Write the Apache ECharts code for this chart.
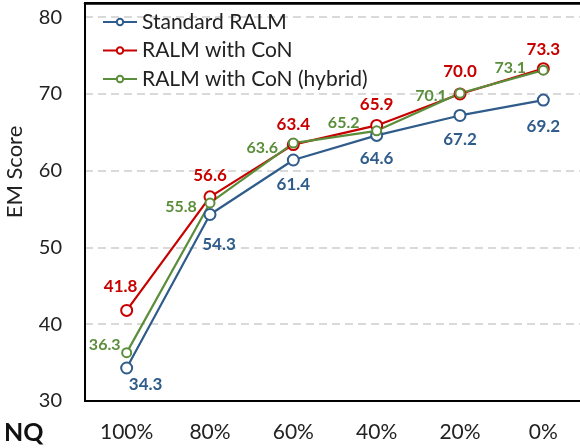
<!DOCTYPE html>
<html>
<head>
<meta charset="utf-8">
<script src="https://cdn.jsdelivr.net/npm/echarts@6/dist/echarts.min.js"></script>
<style>html,body{margin:0;padding:0;background:#fff}#c{width:580px;height:448px}</style>
</head>
<body>
<div id="c"></div>
<script>
const categories = ['100%', '80%', '60%', '40%', '20%', '0%'];
const seriesNames = ['Standard RALM', 'RALM with CoN', 'RALM with CoN (hybrid)'];
const standardRALM = [34.3, 54.3, 61.4, 64.6, 67.2, 69.2];
const ralmCoN = [41.8, 56.6, 63.4, 65.9, 70.0, 73.3];
const ralmCoNHybrid = [36.3, 55.8, 63.6, 65.2, 70.1, 73.1];
const yTicks = [30, 40, 50, 60, 70, 80];

// label offsets (layout only)
const offStd = [[19, 17], [9, 30], [0, 25], [0, 23], [0, 24], [0, 26]];
const offCoN = [[-6, -24], [0, -21], [0, -20], [0, -21], [0, -22], [0, -19]];
const offHyb = [[-22, -8], [-29, 4], [-31, 5], [-33, -8], [-29, 3], [-33, -2]];

const FONT = 'Lato';
const cBlue = '#2F5C8A', cRed = '#C80000', cGreen = '#5B8E3A';

function mk(vals, offs) {
  return vals.map((v, i) => ({ value: v, label: { offset: offs[i] } }));
}
function series(name, vals, offs, color, size, bw, fs) {
  return {
    name: name, type: 'line', data: mk(vals, offs),
    symbol: 'emptyCircle', symbolSize: size,
    lineStyle: { color: color, width: 2.2 },
    itemStyle: { color: color, borderColor: color, borderWidth: bw },
    label: {
      show: true, position: 'inside', color: color,
      fontFamily: FONT, fontWeight: 'bold', fontSize: fs,
      formatter: p => p.value.toFixed(1)
    }
  };
}

const chart = echarts.init(document.getElementById('c'), null, { renderer: 'canvas' });
chart.setOption({
  animation: false,
  textStyle: { fontFamily: FONT },
  grid: { left: 85, width: 500, top: 3, bottom: 47, outerBoundsMode: 'none', containLabel: false,
    show: true, borderColor: '#000', borderWidth: 2, backgroundColor: 'transparent' },
  legend: {
    orient: 'vertical', left: 102, top: 11, padding: 0, itemWidth: 34, itemHeight: 8, itemGap: 6.5,
    data: seriesNames,
    textStyle: { fontFamily: FONT, fontSize: 21, color: '#222', lineHeight: 22 }
  },
  xAxis: [{
    type: 'category', data: categories, boundaryGap: true,
    axisLine: { onZero: false, lineStyle: { color: '#000', width: 2 } },
    axisTick: { show: false },
    axisLabel: { fontFamily: FONT, fontSize: 21, color: '#222', margin: 21 }
  }, {
    type: 'category', data: categories, position: 'top', boundaryGap: true, z: 10,
    axisLine: { show: true, onZero: false, lineStyle: { color: '#000', width: 2.5 } },
    axisTick: { show: false }, axisLabel: { show: false }, splitLine: { show: false }
  }],
  yAxis: {
    type: 'value', min: yTicks[0], max: 81.85, interval: 10,
    axisLine: { show: true, lineStyle: { color: '#000', width: 2 } },
    axisTick: { show: false },
    axisLabel: { fontFamily: FONT, fontSize: 20, color: '#222', margin: 23, showMaxLabel: false,
      formatter: v => (yTicks.indexOf(v) >= 0 ? String(v) : '') },
    splitLine: { show: true, lineStyle: { color: ['#D9D9D9', '#D9D9D9', '#D9D9D9', '#D9D9D9', '#D9D9D9', '#D9D9D9', 'rgba(0,0,0,0)'], width: 2, type: [8, 5] } }
  },
  graphic: [
    { type: 'text', rotation: Math.PI / 2, x: 15, y: 172,
      style: { text: 'EM Score', fontFamily: FONT, fontSize: 22, fill: '#222', align: 'center', verticalAlign: 'middle', x: 0, y: 0 } },
    { type: 'text', style: { text: 'NQ', fontFamily: FONT, fontSize: 25, fontWeight: 'bold', fill: '#111', x: 4, y: 420 } }
  ],
  series: [
    series(seriesNames[0], standardRALM, offStd, cBlue, 11, 2, 17),
    series(seriesNames[1], ralmCoN, offCoN, cRed, 11, 2, 17),
    series(seriesNames[2], ralmCoNHybrid, offHyb, cGreen, 9, 1.5, 16)
  ]
});
</script>
</body>
</html>
